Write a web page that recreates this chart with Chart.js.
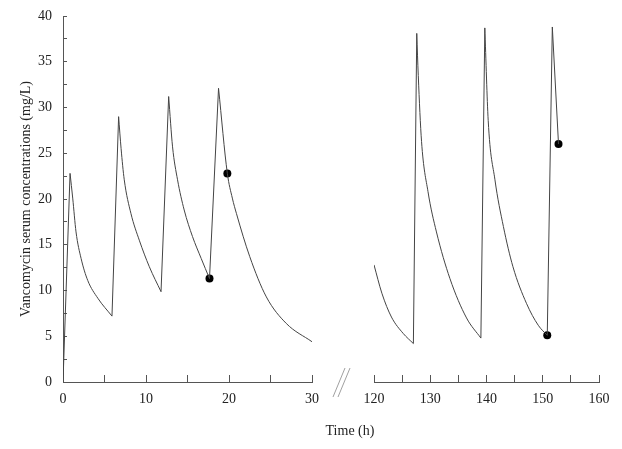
<!DOCTYPE html>
<html>
<head>
    <meta charset="utf-8">
    <title>Vancomycin serum concentrations</title>
    <script src="https://cdn.jsdelivr.net/npm/chart.js"></script>
    <style>
        body { margin: 0; background: #fff; }
        #wrap { position: relative; width: 622px; height: 449px; }
        canvas { position: absolute; top: 0; }
        #xTitle {
            position: absolute; left: 300px; width: 100px; top: 423px;
            text-align: center; font: 14px 'Liberation Serif', serif; color: #222;
        }
    </style>
</head>
<body>
<div id="wrap">
    <canvas id="leftChart" width="360" height="449" style="left:0"></canvas>
    <canvas id="rightChart" width="282" height="449" style="left:340px"></canvas>
    <div id="xTitle">Time (h)</div>
</div>

<script>
    // first days (0-30 h)
    const earlyTime = [0, 0.85, 1.17, 1.57, 2.18, 2.98, 4.2, 5.9,
        6.7, 7.0, 7.38, 8.19, 9.19, 10.4, 11.81,
        12.73, 13.2, 13.8, 14.6, 15.6, 16.65, 17.65,
        18.74, 19.8, 20.4, 20.9, 22.5, 24.5, 26.9, 30];
    const earlyConc = [0, 22.8, 20.1, 16.4, 13.5, 11.1, 9.15, 7.2,
        29.0, 25.5, 22.1, 18.4, 15.5, 12.6, 9.87,
        31.2, 25.7, 22.1, 18.8, 15.9, 13.5, 11.3,
        32.1, 22.8, 20.1, 18.4, 13.7, 9.3, 6.4, 4.4];

    // later days (120-160 h)
    const lateTime = [120, 121.4, 123.1, 125.2, 127.0,
        127.6, 127.87, 128.45, 129.6, 131.1, 133.5, 136.45, 139.0,
        139.7, 140.3, 141.5, 143.0, 144.7, 147.1, 149.2, 150.8,
        151.7, 152.8];
    const lateConc = [12.8, 9.7, 7.1, 5.3, 4.2,
        38.1, 33.5, 26.3, 20.8, 16.4, 11.3, 7.0, 4.8,
        38.7, 28.6, 22.1, 17.0, 12.6, 8.6, 6.2, 5.1,
        38.8, 26.0];

    // measured levels
    const measuredEarlyTime = [17.65, 19.8];
    const measuredEarlyConc = [11.3, 22.8];
    const measuredLateTime = [150.8, 152.8];
    const measuredLateConc = [5.1, 26.0];

    const yTicksStep = 2.5;
    const xTicksStep = 5;

    const serif = "'Liberation Serif', 'Times New Roman', serif";
    Chart.defaults.font.family = serif;
    Chart.defaults.font.size = 14;
    Chart.defaults.color = '#222';

    // infusions are straight rises, elimination phases are smooth curves
    function datasets(times, concs, mTimes, mConcs) {
        const decay = [], rise = [];
        for (let i = 0; i < times.length; i++) {
            decay.push({ x: times[i], y: concs[i] });
            if (i < times.length - 1 && concs[i + 1] > concs[i]) {
                decay.push({ x: times[i], y: null });
                rise.push({ x: times[i], y: concs[i] }, { x: times[i + 1], y: concs[i + 1] },
                    { x: times[i + 1], y: null });
            }
        }
        const line = { borderColor: '#444', borderWidth: 1, pointRadius: 0, fill: false };
        return [
            Object.assign({ data: decay, cubicInterpolationMode: 'monotone' }, line),
            Object.assign({ data: rise, tension: 0 }, line),
            {
                data: mTimes.map((x, i) => ({ x: x, y: mConcs[i] })),
                showLine: false,
                pointRadius: 4,
                pointBackgroundColor: '#000',
                pointBorderColor: '#000',
                pointBorderWidth: 0
            }
        ];
    }

    function xScale(min, max) {
        return {
            type: 'linear',
            min: min,
            max: max,
            afterFit: s => { s.height = 67; s.paddingLeft = 0; s.paddingRight = 0; },
            ticks: {
                stepSize: xTicksStep,
                autoSkip: false,
                maxRotation: 0,
                padding: 16,
                callback: v => (v % 10 === 0 ? v : '')
            },
            grid: { drawOnChartArea: false, tickLength: -7, color: '#555' },
            border: { display: true, color: '#555', width: 1 }
        };
    }

    // the // marks of the broken time axis
    const axisBreak = {
        id: 'axisBreak',
        afterDraw(chart) {
            const c = chart.ctx;
            c.save();
            c.strokeStyle = '#888';
            c.lineWidth = 0.8;
            c.beginPath();
            c.moveTo(333, 397); c.lineTo(345, 368);
            c.moveTo(338, 397); c.lineTo(350, 368);
            c.stroke();
            c.restore();
        }
    };

    new Chart(document.getElementById('leftChart'), {
        type: 'line',
        data: { datasets: datasets(earlyTime, earlyConc, measuredEarlyTime, measuredEarlyConc) },
        options: {
            responsive: false,
            animation: false,
            layout: { padding: { top: 16, left: 0, right: 48, bottom: 0 } },
            plugins: { legend: { display: false }, tooltip: { enabled: false } },
            scales: {
                x: xScale(0, 30),
                y: {
                    min: 0,
                    max: 40,
                    afterFit: s => { s.width = 63; s.paddingTop = 0; s.paddingBottom = 0; },
                    ticks: {
                        stepSize: yTicksStep,
                        padding: 15,
                        callback: v => (v % 5 === 0 ? v : '')
                    },
                    grid: { drawOnChartArea: false, tickLength: -4, color: '#555' },
                    border: { display: true, color: '#555', width: 1 },
                    title: {
                        display: true,
                        text: 'Vancomycin serum concentrations (mg/L)',
                        font: { size: 14 },
                        padding: { top: 18, bottom: 0 }
                    }
                }
            }
        },
        plugins: [axisBreak]
    });

    new Chart(document.getElementById('rightChart'), {
        type: 'line',
        data: { datasets: datasets(lateTime, lateConc, measuredLateTime, measuredLateConc) },
        options: {
            responsive: false,
            animation: false,
            layout: { padding: { top: 16, left: 34, right: 23, bottom: 0 } },
            plugins: { legend: { display: false }, tooltip: { enabled: false } },
            scales: {
                x: xScale(120, 160),
                y: { min: 0, max: 40, display: false }
            }
        }
    });
</script>
</body>
</html>
